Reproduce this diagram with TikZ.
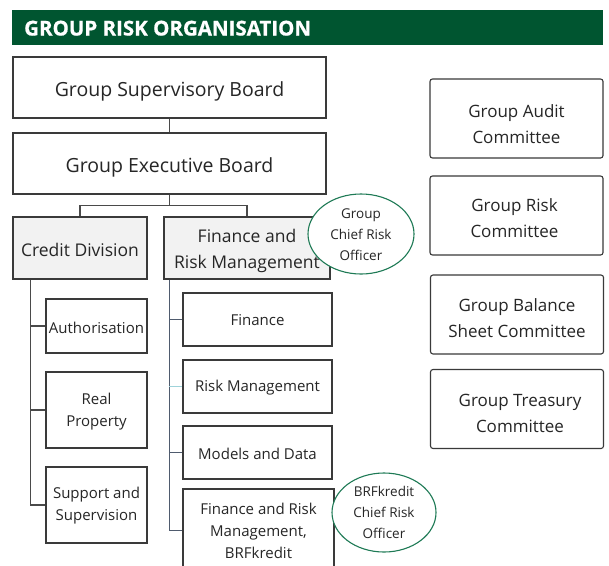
\documentclass[tikz,border=0pt]{standalone}
\usepackage{fontspec}
\setmainfont{Open Sans}
\newfontfamily\titlefont{Open Sans}[BoldFeatures={FakeBold=0.7}]
\usetikzlibrary{calc,shapes.geometric}
\definecolor{hdrgreen}{HTML}{005530}
\definecolor{ovalgreen}{HTML}{1E7A55}
\definecolor{boxline}{HTML}{3A3A3A}
\definecolor{boxfill}{HTML}{F2F2F2}
\definecolor{linkgray}{HTML}{4A4A4A}
\definecolor{linkblue}{HTML}{4F5B6E}
\definecolor{linkcyan}{HTML}{9FD3DA}
\tikzset{
  % frames
  orgbox/.style={draw=boxline, line width=1.1pt, rectangle, inner sep=0pt},
  bigbox/.style={orgbox, minimum width=313pt, minimum height=61pt},
  divbox/.style={orgbox, fill=boxfill, minimum height=62pt},
  subbox/.style={orgbox},
  cttbox/.style={orgbox, rounded corners=2.5pt, minimum width=173pt, minimum height=79pt},
  oval/.style={draw=ovalgreen, line width=1.1pt, ellipse, fill=white, inner sep=0pt},
  % captions
  captxt/.style={align=center, inner sep=0pt, text=black!85},
  bigtxt/.style={captxt, font=\fontsize{19.5}{24}\selectfont},
  divtxt/.style={captxt, font=\fontsize{17.5}{26}\selectfont},
  subtxt/.style={captxt, font=\fontsize{15}{22}\selectfont},
  ctttxt/.style={captxt, font=\fontsize{17}{26}\selectfont},
  ovaltxt/.style={captxt, font=\fontsize{13.5}{21}\selectfont},
  % connectors
  link/.style={draw=linkgray, line width=1.1pt},
  flink/.style={draw=linkblue, line width=1pt}
}
\begin{document}
\begin{tikzpicture}[x=1pt,y=-1pt]
\useasboundingbox (0,0) rectangle (609,565);
\clip (0,0) rectangle (609,565);
\fill[white] (0,0) rectangle (609,565);

% title bar
\node[fill=hdrgreen, minimum width=591pt, minimum height=35pt, inner sep=0pt,
  anchor=north west] (bar) at (12,9.5) {};
\node[anchor=west, text=white, font=\titlefont\fontsize{20.5}{22}\bfseries\selectfont,
  inner sep=0pt] (title) at ($(bar.west)+(12,1)$) {GROUP RISK ORGANISATION};

% boards
\node[bigbox, label={[bigtxt, yshift=-4pt]center:Group Supervisory Board}] (gsb) at (169.5,87.5) {};
\node[bigbox, label={[bigtxt, yshift=-4pt]center:Group Executive Board}] (geb) at (169.5,163.5) {};

% divisions
\node[divbox, minimum width=134pt, label={[divtxt, yshift=-1.5pt]center:Credit Division}] (cd) at (80,248) {};
\node[divbox, minimum width=166pt, label={[divtxt, yshift=-3pt]center:{Finance and\\Risk Management}}] (frm) at (247,248) {};

% credit division units
\node[subbox, minimum width=101pt, minimum height=54pt,
  label={[subtxt, yshift=-1.5pt]center:Authorisation}] (auth) at (96.5,326) {};
\node[subbox, minimum width=101pt, minimum height=76pt,
  label={[subtxt, yshift=-2pt]center:{Real\\Property}}] (real) at (96.5,410) {};
\node[subbox, minimum width=101pt, minimum height=76pt,
  label={[subtxt, yshift=-1pt]center:{Support and\\Supervision}}] (supp) at (96.5,505) {};

% finance and risk management units
\node[subbox, minimum width=149pt, minimum height=53pt,
  label={[subtxt, yshift=-1pt]center:Finance}] (fin) at (257.5,319.5) {};
\node[subbox, minimum width=149pt, minimum height=53pt,
  label={[subtxt, yshift=-1.5pt]center:Risk Management}] (risk) at (257.5,386.5) {};
\node[subbox, minimum width=149pt, minimum height=53pt,
  label={[subtxt, yshift=-1.5pt]center:Models and Data}] (mod) at (257.5,452.5) {};
\node[subbox, minimum width=151pt, minimum height=82pt,
  label={[subtxt, yshift=-1pt]center:{Finance and Risk\\Management,\\BRFkredit}}] (brf) at (258.5,530) {};

% committees
\node[cttbox, label={[ctttxt, yshift=-6pt]center:{Group Audit\\Committee}}] (audit) at (516.5,118.5) {};
\node[cttbox, label={[ctttxt, yshift=-2.5pt, xshift=-2pt]center:{Group Risk\\Committee}}] (rcom) at (516.5,215.5) {};
\node[cttbox, label={[ctttxt, yshift=-4pt]center:{Group Balance\\Sheet Committee}}] (bal) at (517,314.5) {};
\node[cttbox, label={[ctttxt, yshift=-4pt, xshift=3pt]center:{Group Treasury\\Committee}}] (tre) at (517,409) {};

% connectors
\draw[link] (gsb.south) -- (geb.north);
\coordinate (split) at ($(geb.south)+(0,11)$);
\draw[link] (geb.south) -- (split) -| (cd.north);
\draw[link] (split) -| (frm.north);

\coordinate (ctrunk) at ($(cd.south west)+(18,0)$);
\draw[link] (ctrunk) |- (auth.west);
\draw[link] (ctrunk) |- (real.west);
\draw[link] (ctrunk) |- (supp.west);

\coordinate (ftrunk) at ($(frm.south west)+(6,0)$);
\draw[flink] (ftrunk) |- (brf.west);
\draw[flink] (ftrunk) |- (fin.west);
\draw[flink] (ftrunk) |- (mod.west);
\draw[draw=linkcyan, line width=1pt] (ftrunk |- risk.west) -- (risk.west);

% chief risk officers
\node[oval, minimum width=106pt, minimum height=80pt,
  label={[ovaltxt, yshift=-1pt]center:{Group\\Chief Risk\\Officer}}] (gcro) at (361,234) {};
\node[oval, minimum width=104pt, minimum height=79pt,
  label={[ovaltxt]center:{BRFkredit\\Chief Risk\\Officer}}] (bcro) at (384,512.5) {};
\end{tikzpicture}
\end{document}
